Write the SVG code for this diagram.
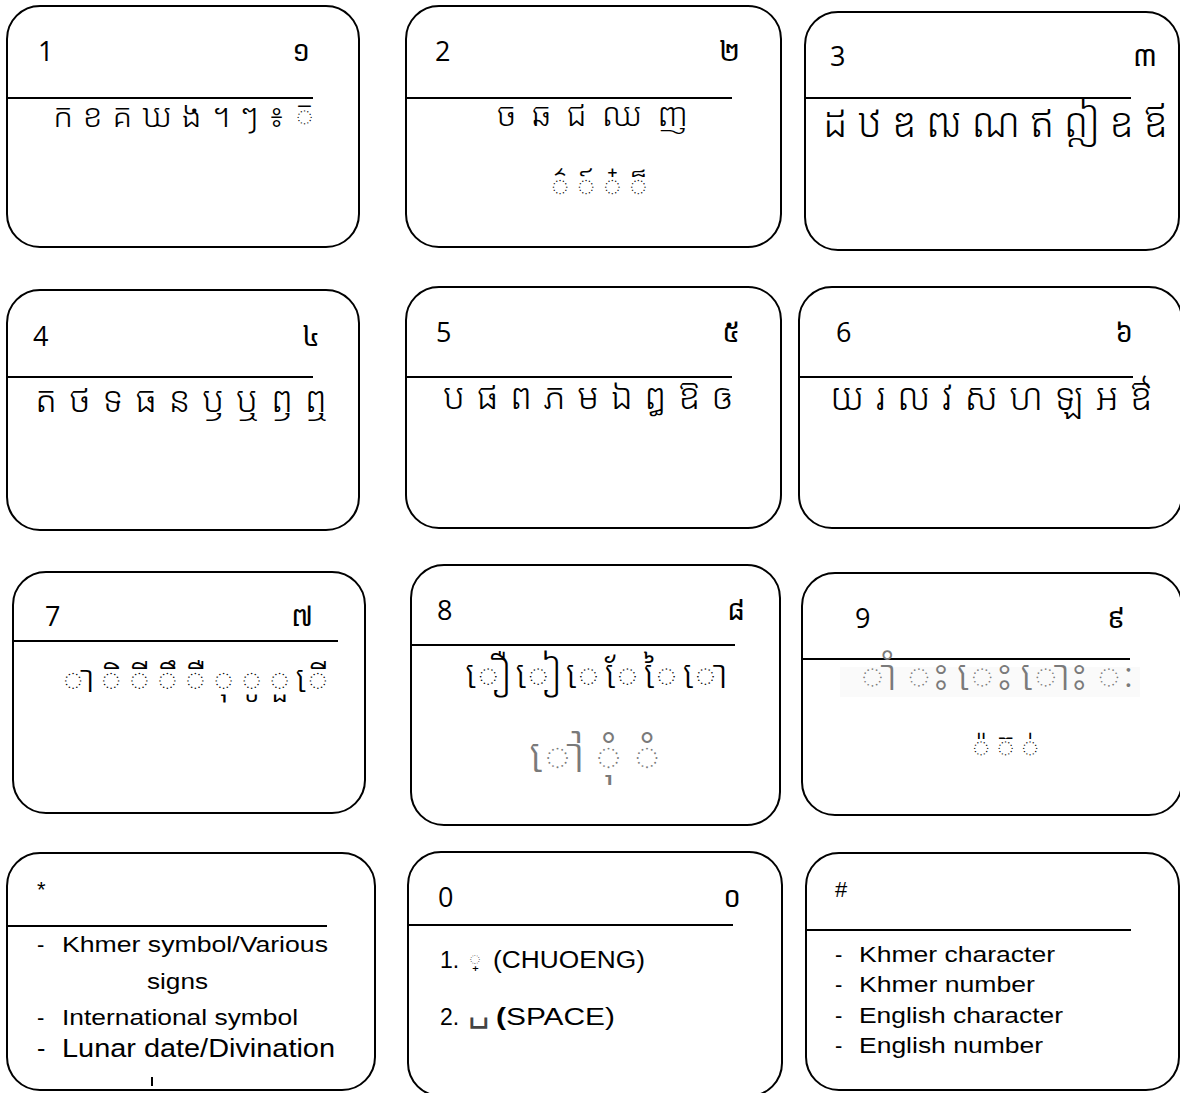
<svg xmlns="http://www.w3.org/2000/svg" width="1180" height="1093" viewBox="0 0 1180 1093">
<style>
.box{fill:#fff;stroke:#000;stroke-width:2}
.sep{stroke:#000;stroke-width:2}
.num{font-family:"Open Sans","Liberation Sans",sans-serif;font-size:27px;fill:#000}
.kd{font-family:"Noto Sans Khmer","Khmer OS","Khmer OS System","Noto Serif Khmer",sans-serif;font-size:28px;fill:#000}
.km{font-family:"Noto Sans Khmer","Khmer OS","Khmer OS System","Noto Serif Khmer",sans-serif;font-size:33px;font-weight:300;fill:#000}
.ks{font-family:"Noto Sans Khmer","Khmer OS","Khmer OS System","Noto Serif Khmer",sans-serif;font-size:34px;font-weight:300;fill:#000}
.gray{fill:#7a7a7a}
.en{font-family:"Liberation Sans",Arial,sans-serif;font-size:22px;fill:#000}
</style>
<rect width="1180" height="1093" fill="#fff"/>
<g id="connectors"></g>

<g id="key1">
<rect class="box" x="7" y="6" width="352" height="241" rx="33"/>
<line class="sep" x1="8" y1="98" x2="313" y2="98"/>
<text class="num" x="38" y="61">1</text>
<text class="kd" x="310" y="61" text-anchor="end">១</text>
<text class="km" x="53" y="127" textLength="262" lengthAdjust="spacing">ក ខ គ ឃ ង ។ ៗ ៖ ◌៑</text>
</g>

<g id="key2">
<rect class="box" x="406" y="6" width="375" height="241" rx="33"/>
<line class="sep" x1="406" y1="98" x2="732" y2="98"/>
<text class="num" x="435" y="61">2</text>
<text class="kd" x="740" y="61" text-anchor="end">២</text>
<text class="km" x="497" y="126" textLength="191" lengthAdjust="spacing">ច ឆ ជ ឈ ញ</text>
<text class="ks" x="547" y="197" textLength="100" lengthAdjust="spacing">◌៌ ◌៍ ◌៎ ◌៏</text>
</g>

<g id="key3">
<rect class="box" x="805" y="12" width="374" height="238" rx="33"/>
<line class="sep" x1="805" y1="98" x2="1131" y2="98"/>
<text class="num" x="830" y="66">3</text>
<text class="kd" x="1157" y="66" text-anchor="end">៣</text>
<text class="km" x="823" y="137" style="font-size:40px" textLength="345" lengthAdjust="spacing">ដ ឋ ឌ ឍ ណ ឥ ឦ ឧ ឪ</text>
</g>

<g id="key4">
<rect class="box" x="7" y="290" width="352" height="240" rx="33"/>
<line class="sep" x1="8" y1="377" x2="313" y2="377"/>
<text class="num" x="33" y="346">4</text>
<text class="kd" x="320" y="346" text-anchor="end">៤</text>
<text class="km" x="35" y="412" style="font-size:36px" textLength="293" lengthAdjust="spacing">ត ថ ទ ធ ន ឫ ឬ ឭ ឮ</text>
</g>

<g id="key5">
<rect class="box" x="406" y="287" width="375" height="241" rx="33"/>
<line class="sep" x1="406" y1="377" x2="732" y2="377"/>
<text class="num" x="436" y="342">5</text>
<text class="kd" x="740" y="342" text-anchor="end">៥</text>
<text class="km" x="443" y="409" style="font-size:36px" textLength="290" lengthAdjust="spacing">ប ផ ព ភ ម ឯ ឰ ឱ ឲ</text>
</g>

<g id="key6">
<rect class="box" x="799" y="287" width="383" height="241" rx="33"/>
<line class="sep" x1="800" y1="377" x2="1133" y2="377"/>
<text class="num" x="836" y="342">6</text>
<text class="kd" x="1133" y="342" text-anchor="end">៦</text>
<text class="km" x="830" y="410" style="font-size:37px" textLength="322" lengthAdjust="spacing">យ រ ល វ ស ហ ឡ អ ឳ</text>
</g>

<g id="key7">
<rect class="box" x="13" y="572" width="352" height="241" rx="33"/>
<line class="sep" x1="13" y1="641" x2="338" y2="641"/>
<text class="num" x="45" y="626">7</text>
<text class="kd" x="313" y="626" text-anchor="end">៧</text>
<text class="km" x="58" y="692" style="font-size:38px" textLength="269" lengthAdjust="spacing">◌ា ◌ិ ◌ី ◌ឹ ◌ឺ ◌ុ ◌ូ ◌ួ ◌ើ</text>
</g>

<g id="key8">
<rect class="box" x="411" y="565" width="369" height="260" rx="33"/>
<line class="sep" x1="411" y1="645" x2="735" y2="645"/>
<text class="num" x="437" y="620">8</text>
<text class="kd" x="745" y="620" text-anchor="end">៨</text>
<text class="km" x="462" y="688" style="font-size:39px" textLength="263" lengthAdjust="spacing">◌ឿ ◌ៀ ◌េ ◌ែ ◌ៃ ◌ោ</text>
<text class="km gray" x="527" y="772" style="font-size:48px" textLength="133" lengthAdjust="spacing">◌ៅ ◌ុំ ◌ំ</text>
</g>

<g id="key9">
<rect class="box" x="802" y="573" width="380" height="242" rx="33"/>
<line class="sep" x1="802" y1="659" x2="1130" y2="659"/>
<text class="num" x="855" y="628">9</text>
<text class="kd" x="1125" y="628" text-anchor="end">៩</text>
<rect x="840" y="667" width="300" height="30" fill="#fafafa"/>
<text class="km gray" x="857" y="690" style="font-size:43px" textLength="276" lengthAdjust="spacing">◌ាំ ◌ះ ◌េះ ◌ោះ ◌ៈ</text>
<text class="ks" x="968" y="758" style="font-size:33px" textLength="70" lengthAdjust="spacing">◌៉ ◌៊ ◌់</text>
</g>

<g id="keyStar">
<rect class="box" x="7" y="853" width="368" height="237" rx="33"/>
<line class="sep" x1="8" y1="926" x2="327" y2="926"/>
<text class="en" x="37" y="897">*</text>
<text class="en" x="37" y="952">-</text>
<text class="en" x="62" y="952" textLength="266" lengthAdjust="spacingAndGlyphs">Khmer symbol/Various</text>
<text class="en" x="147" y="989" textLength="61" lengthAdjust="spacingAndGlyphs">signs</text>
<text class="en" x="37" y="1025">-</text>
<text class="en" x="62" y="1025" textLength="236" lengthAdjust="spacingAndGlyphs">International symbol</text>
<text class="en" x="37" y="1057" style="font-size:25px">-</text>
<text class="en" x="62" y="1057" style="font-size:25px" textLength="273" lengthAdjust="spacingAndGlyphs">Lunar date/Divination</text>
<line x1="152" y1="1077" x2="152" y2="1086" stroke="#000" stroke-width="2"/>
</g>

<g id="key0">
<rect class="box" x="408" y="852" width="374" height="244" rx="33"/>
<line class="sep" x1="408" y1="925" x2="733" y2="925"/>
<text class="num" x="438" y="907">0</text>
<text class="kd" x="741" y="907" text-anchor="end">០</text>
<text class="en" x="440" y="968" style="font-size:23px">1.</text>
<text class="ks" x="468" y="966" style="font-size:22px">◌្</text>
<text class="en" x="493" y="968" style="font-size:23px" textLength="152" lengthAdjust="spacingAndGlyphs">(CHUOENG)</text>
<text class="en" x="440" y="1025" style="font-size:23px">2.</text>
<text class="en" x="468" y="1021" style="font-size:34px;fill:#444">␣</text>
<text class="en" x="496" y="1025" style="font-size:23px" textLength="119" lengthAdjust="spacingAndGlyphs"><tspan font-weight="bold">(</tspan>SPACE)</text>
</g>

<g id="keyHash">
<rect class="box" x="806" y="853" width="373" height="237" rx="33"/>
<line class="sep" x1="806" y1="930" x2="1131" y2="930"/>
<text class="en" x="835" y="897">#</text>
<text class="en" x="835" y="962">-</text>
<text class="en" x="859" y="962" textLength="196" lengthAdjust="spacingAndGlyphs">Khmer character</text>
<text class="en" x="835" y="992">-</text>
<text class="en" x="859" y="992" textLength="176" lengthAdjust="spacingAndGlyphs">Khmer number</text>
<text class="en" x="835" y="1023">-</text>
<text class="en" x="859" y="1023" textLength="204" lengthAdjust="spacingAndGlyphs">English character</text>
<text class="en" x="835" y="1053">-</text>
<text class="en" x="859" y="1053" textLength="184" lengthAdjust="spacingAndGlyphs">English number</text>
</g>
</svg>
